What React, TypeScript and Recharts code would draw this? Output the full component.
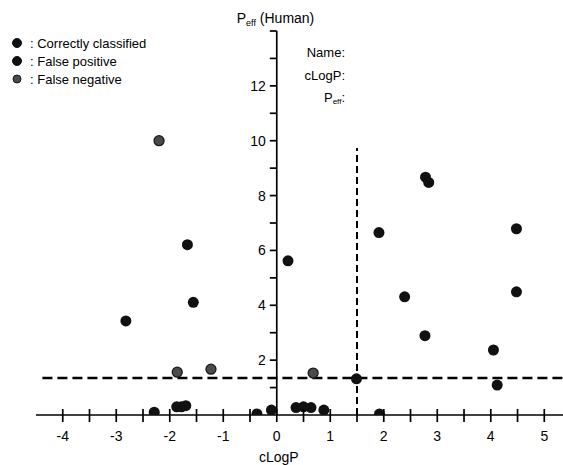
import React from "react";
import {
  ScatterChart,
  Scatter,
  XAxis,
  YAxis,
  ReferenceLine,
  Legend,
} from "recharts";

const FONT = "'Liberation Sans', Arial, sans-serif";

// cLogP vs Peff(Human)
const correct = [
  { x: -2.82, y: 3.43 },
  { x: -1.67, y: 6.21 },
  { x: -1.56, y: 4.11 },
  { x: 0.21, y: 5.62 },
  { x: -2.29, y: 0.1 },
  { x: -1.87, y: 0.3 },
  { x: -1.78, y: 0.3 },
  { x: -1.7, y: 0.34 },
  { x: -0.37, y: 0.04 },
  { x: -0.1, y: 0.18 },
  { x: 0.36, y: 0.27 },
  { x: 0.5, y: 0.3 },
  { x: 0.64, y: 0.27 },
  { x: 0.88, y: 0.18 },
  { x: 2.78, y: 8.67 },
  { x: 2.84, y: 8.48 },
  { x: 1.91, y: 6.65 },
  { x: 4.48, y: 6.79 },
  { x: 2.39, y: 4.31 },
  { x: 4.48, y: 4.49 },
  { x: 2.77, y: 2.89 },
  { x: 4.05, y: 2.37 },
];

const falsePositive = [
  { x: 1.92, y: 0.04 },
  { x: 4.12, y: 1.09 },
  { x: 1.49, y: 1.32 },
];

const falseNegative = [
  { x: -2.2, y: 10.0 },
  { x: -1.86, y: 1.56 },
  { x: -1.23, y: 1.67 },
  { x: 0.68, y: 1.53 },
];

const xTicks = [-4, -3.5, -3, -2.5, -2, -1.5, -1, -0.5, 0, 0.5, 1, 1.5, 2, 2.5, 3, 3.5, 4, 4.5, 5];
const yMajor = [2, 4, 6, 8, 10, 12];
const yMinor = [1, 3, 5, 7, 9, 11, 13, 14];

const pCut = 1.35; // horizontal threshold
const cLogPCut = 1.5; // vertical threshold

const legendItems = [
  { label: ": Correctly classified", fill: "#111", stroke: "#111", r: 4.5 },
  { label: ": False positive", fill: "#111", stroke: "#111", r: 4.5 },
  { label: ": False negative", fill: "#4a4a4a", stroke: "#1a1a1a", r: 4 },
];

const blackDot = (p: any) => <circle cx={p.cx} cy={p.cy} r={5.5} fill="#111" />;
const grayDot = (p: any) => (
  <circle cx={p.cx} cy={p.cy} r={5} fill="#4a4a4a" stroke="#1a1a1a" strokeWidth={1.3} />
);

const XTick = (props: any) => {
  const { x, y, payload } = props;
  const v = payload.value;
  return (
    <g>
      <line x1={x} x2={x} y1={y - 6} y2={y + 7} stroke="#000" strokeWidth={1.7} />
      {Number.isInteger(v) && (
        <text x={x} y={y + 26} textAnchor="middle" fontSize={14} fill="#000" fontFamily={FONT}>
          {v}
        </text>
      )}
    </g>
  );
};

const LegendBox = () => (
  <div style={{ fontFamily: FONT, fontSize: 13, color: "#000" }}>
    {legendItems.map((it) => (
      <div key={it.label} style={{ display: "flex", alignItems: "center", height: 18 }}>
        <svg width={10} height={10} style={{ marginRight: 8 }}>
          <circle cx={5} cy={5} r={it.r} fill={it.fill} stroke={it.stroke} />
        </svg>
        <span>{it.label}</span>
      </div>
    ))}
  </div>
);

export default function App() {
  return (
    <div style={{ position: "relative", width: 563, height: 465, background: "#fff" }}>
      <style>{"body{margin:0}"}</style>
      <ScatterChart
        width={563}
        height={465}
        margin={{ top: 31, right: 0, left: 36, bottom: 0 }}
      >
        <XAxis
          dataKey="x"
          type="number"
          domain={[-4.5, 5.35]}
          ticks={xTicks}
          interval={0}
          allowDataOverflow
          tickLine={false}
          tickSize={0}
          tickMargin={0}
          height={50}
          axisLine={{ stroke: "#000", strokeWidth: 1.7 }}
          tick={(p: any) => <XTick {...p} />}
        />
        <YAxis dataKey="y" type="number" domain={[0, 14]} hide allowDataOverflow />

        {/* y axis drawn at cLogP = 0 */}
        <ReferenceLine
          x={0}
          stroke="#000"
          strokeWidth={1.7}
          label={(p: any) => (
            <text x={p.viewBox.x - 40} y={p.viewBox.y - 8} fontSize={14} fill="#000" fontFamily={FONT}>
              P
              <tspan fontSize={9} dy={3}>eff</tspan>
              <tspan dy={-3}> (Human)</tspan>
            </text>
          )}
        />
        <ReferenceLine
          x={0}
          stroke="none"
          label={(p: any) => (
            <text
              x={p.viewBox.x + 2}
              y={p.viewBox.y + p.viewBox.height + 47}
              fontSize={14}
              textAnchor="middle"
              fill="#000"
              fontFamily={FONT}
            >
              cLogP
            </text>
          )}
        />
        {yMajor.map((v) => (
          <ReferenceLine
            key={`ymaj-${v}`}
            segment={[{ x: -0.13, y: v }, { x: 0, y: v }]}
            stroke="#000"
            strokeWidth={1.7}
            label={{ value: String(v), position: "left", offset: 4, fontSize: 14, fill: "#000", fontFamily: FONT }}
          />
        ))}
        {yMinor.map((v) => (
          <ReferenceLine
            key={`ymin-${v}`}
            segment={[{ x: -0.13, y: v }, { x: 0, y: v }]}
            stroke="#000"
            strokeWidth={1.7}
          />
        ))}

        {/* classification thresholds */}
        <ReferenceLine
          segment={[{ x: -4.38, y: pCut }, { x: 5.35, y: pCut }]}
          stroke="#000"
          strokeWidth={2.5}
          strokeDasharray="10 5"
        />
        <ReferenceLine
          segment={[{ x: cLogPCut, y: 0 }, { x: cLogPCut, y: 9.73 }]}
          stroke="#000"
          strokeWidth={2}
          strokeDasharray="7 4"
        />

        <Scatter name="Correctly classified" data={correct} shape={blackDot} isAnimationActive={false} />
        <Scatter name="False positive" data={falsePositive} shape={blackDot} isAnimationActive={false} />
        <Scatter name="False negative" data={falseNegative} shape={grayDot} isAnimationActive={false} />

        <Legend
          layout="vertical"
          align="center"
          verticalAlign="middle"
          content={() => <LegendBox />}
          wrapperStyle={{ left: 12, top: 34, width: 180, height: 60 }}
        />
      </ScatterChart>

      <div
        style={{
          position: "absolute",
          left: 245,
          top: 42,
          width: 100,
          textAlign: "right",
          fontFamily: FONT,
          fontSize: 13,
          lineHeight: "22.5px",
          color: "#000",
        }}
      >
        <div>Name:</div>
        <div>cLogP:</div>
        <div>
          P<sub style={{ fontSize: 8, verticalAlign: "-2px" }}>eff</sub>:
        </div>
      </div>
    </div>
  );
}
